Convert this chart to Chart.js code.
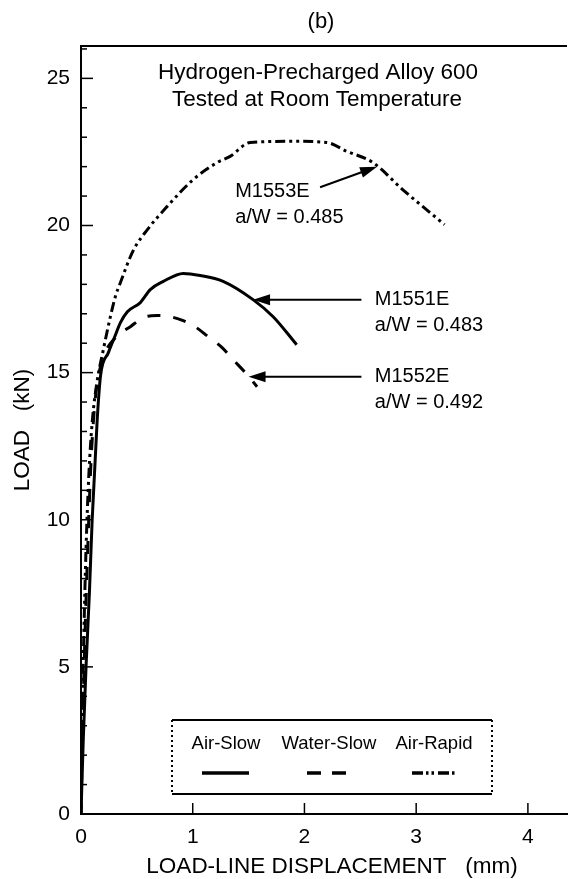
<!DOCTYPE html>
<html>
<head>
<meta charset="utf-8">
<title>Load vs load-line displacement</title>
<script src="https://cdn.jsdelivr.net/npm/chart.js@4.4.1/dist/chart.umd.min.js"></script>
<style>
  html, body { margin: 0; padding: 0; background: #fff; }
  #wrap { width: 570px; height: 879px; }
</style>
</head>
<body>
<div id="wrap"><canvas id="loadChart" width="570" height="879"></canvas></div>
<script>
// values (mm / kN)
var airSlowX = [0, 0.02, 0.045, 0.075, 0.10, 0.145, 0.175, 0.245, 0.30, 0.353, 0.415, 0.531, 0.62, 0.737, 0.915, 1.067, 1.272, 1.54, 1.72, 1.93];
var airSlowY = [0, 2.5, 5.0, 7.5, 10.0, 13.4, 14.9, 15.68, 16.2, 16.7, 17.07, 17.38, 17.82, 18.1, 18.37, 18.3, 18.1, 17.48, 16.9, 15.95];

var waterSlowX = [0, 0.015, 0.035, 0.06, 0.09, 0.13, 0.19, 0.308, 0.442, 0.558, 0.683, 0.799, 0.915, 1.022, 1.138, 1.263, 1.362, 1.487, 1.576];
var waterSlowY = [0, 3.0, 6.0, 9.0, 12.0, 14.2, 15.4, 16.19, 16.56, 16.87, 16.94, 16.9, 16.77, 16.56, 16.22, 15.85, 15.44, 14.93, 14.52];

var airRapidX = [0, 0.01, 0.025, 0.045, 0.07, 0.10, 0.14, 0.20, 0.263, 0.308, 0.353, 0.465, 0.594, 0.772, 1.004, 1.219, 1.335, 1.513, 1.897, 2.2, 2.379, 2.612, 2.879, 3.254];
var airRapidY = [0, 3.0, 6.0, 9.0, 11.5, 13.3, 14.6, 15.78, 16.9, 17.59, 18.06, 19.13, 19.86, 20.65, 21.56, 22.14, 22.35, 22.82, 22.86, 22.82, 22.52, 22.14, 21.22, 20.03];

var seriesNames = ['Air-Slow', 'Water-Slow', 'Air-Rapid'];
var specimenNames = ['M1553E', 'M1551E', 'M1552E'];
var specimenRatios = ['a/W = 0.485', 'a/W = 0.483', 'a/W = 0.492'];

var xTicks = [0, 1, 2, 3, 4];
var yTicks = [0, 5, 10, 15, 20, 25];

function toPoints(xs, ys) {
  var pts = [];
  for (var i = 0; i < xs.length; i++) pts.push({x: xs[i], y: ys[i]});
  return pts;
}

var FONT = "'Liberation Sans', Arial, Helvetica, sans-serif";
var dashStyle = [13, 13];
var dashDotStyle = [10, 4, 3, 4, 3, 4];

// where the labels and arrows sit, in data units
var notes = [
  {text: 0, tx: 1.38, ty: 21.16, fx: 2.14, fy: 21.3, ax: 2.65, ay: 22.0},
  {text: 1, tx: 2.63, ty: 17.48, fx: 2.51, fy: 17.48, ax: 1.54, ay: 17.48},
  {text: 2, tx: 2.63, ty: 14.86, fx: 2.51, fy: 14.86, ax: 1.50, ay: 14.86}
];

function drawArrow(ctx, x1, y1, x2, y2) {
  var ang = Math.atan2(y2 - y1, x2 - x1);
  var len = 17, hw = 5.5;
  ctx.beginPath();
  ctx.moveTo(x1, y1);
  ctx.lineTo(x2 - Math.cos(ang) * len * 0.8, y2 - Math.sin(ang) * len * 0.8);
  ctx.lineWidth = 2;
  ctx.stroke();
  ctx.beginPath();
  ctx.moveTo(x2, y2);
  ctx.lineTo(x2 - Math.cos(ang) * len - Math.sin(ang) * hw, y2 - Math.sin(ang) * len + Math.cos(ang) * hw);
  ctx.lineTo(x2 - Math.cos(ang) * len + Math.sin(ang) * hw, y2 - Math.sin(ang) * len - Math.cos(ang) * hw);
  ctx.closePath();
  ctx.fill();
}

var figureExtras = {
  id: 'figureExtras',
  afterDraw: function (chart) {
    var ctx = chart.ctx;
    var xs = chart.scales.x, ys = chart.scales.y;
    var area = chart.chartArea;
    ctx.save();
    ctx.strokeStyle = '#000';
    ctx.fillStyle = '#000';

    // top frame line
    ctx.lineWidth = 2;
    ctx.beginPath();
    ctx.moveTo(area.left, area.top);
    ctx.lineTo(area.right, area.top);
    ctx.stroke();

    // inward tick marks
    ctx.lineWidth = 1.5;
    for (var v = 1; v <= 26; v++) {
      var py = ys.getPixelForValue(v);
      ctx.beginPath();
      ctx.moveTo(area.left, py);
      ctx.lineTo(area.left + (v % 5 === 0 ? 12 : 6), py);
      ctx.stroke();
    }
    for (var k = 1; k < xTicks.length; k++) {
      var px = xs.getPixelForValue(xTicks[k]);
      ctx.beginPath();
      ctx.moveTo(px, area.bottom);
      ctx.lineTo(px, area.bottom - 11);
      ctx.stroke();
    }

    // header
    ctx.textAlign = 'center';
    ctx.textBaseline = 'middle';
    ctx.font = '22px ' + FONT;
    ctx.fillText('(b)', 321, 22);
    ctx.font = '22.5px ' + FONT;
    ctx.fillText('Hydrogen-Precharged Alloy 600', 318, 73);
    ctx.fillText('Tested at Room Temperature', 317, 100);

    // specimen labels + arrows
    ctx.textAlign = 'left';
    ctx.font = '20px ' + FONT;
    notes.forEach(function (n) {
      var lx = xs.getPixelForValue(n.tx), ly = ys.getPixelForValue(n.ty);
      ctx.fillText(specimenNames[n.text], lx, ly);
      ctx.fillText(specimenRatios[n.text], lx, ly + 26);
      drawArrow(ctx, xs.getPixelForValue(n.fx), ys.getPixelForValue(n.fy),
                xs.getPixelForValue(n.ax), ys.getPixelForValue(n.ay));
    });

    // axis titles
    ctx.textAlign = 'center';
    ctx.font = '22.5px ' + FONT;
    ctx.fillText('LOAD-LINE DISPLACEMENT   (mm)', 332, 867);
    ctx.save();
    ctx.translate(23, 430);
    ctx.rotate(-Math.PI / 2);
    ctx.fillText('LOAD   (kN)', 0, 0);
    ctx.restore();

    // legend box
    ctx.lineWidth = 2;
    ctx.beginPath();
    ctx.moveTo(172, 720); ctx.lineTo(492, 720);
    ctx.moveTo(172, 794); ctx.lineTo(492, 794);
    ctx.stroke();
    ctx.setLineDash([2, 3]);
    ctx.beginPath();
    ctx.moveTo(172, 720); ctx.lineTo(172, 794);
    ctx.moveTo(492, 720); ctx.lineTo(492, 794);
    ctx.stroke();

    ctx.font = '18.5px ' + FONT;
    var centers = [226, 329, 434];
    var sampleX = [[202, 249], [307, 347], [412, 455]];
    var dashes = [[], [14, 11], [11, 3, 2.5, 3, 2.5, 4]];
    for (var i = 0; i < seriesNames.length; i++) {
      ctx.fillText(seriesNames[i], centers[i], 744);
      ctx.setLineDash(dashes[i]);
      ctx.lineWidth = 3.5;
      ctx.beginPath();
      ctx.moveTo(sampleX[i][0], 773);
      ctx.lineTo(sampleX[i][1], 773);
      ctx.stroke();
    }
    ctx.restore();
  }
};

var ctx = document.getElementById('loadChart').getContext('2d');
var chart = new Chart(ctx, {
  type: 'line',
  data: {
    datasets: [
      {
        label: seriesNames[0],
        data: toPoints(airSlowX, airSlowY),
        borderColor: '#000',
        borderWidth: 3,
        pointRadius: 0,
        fill: false,
        cubicInterpolationMode: 'monotone'
      },
      {
        label: seriesNames[1],
        data: toPoints(waterSlowX, waterSlowY),
        borderColor: '#000',
        borderWidth: 3,
        borderDash: dashStyle,
        pointRadius: 0,
        fill: false,
        cubicInterpolationMode: 'monotone'
      },
      {
        label: seriesNames[2],
        data: toPoints(airRapidX, airRapidY),
        borderColor: '#000',
        borderWidth: 3,
        borderDash: dashDotStyle,
        pointRadius: 0,
        fill: false,
        cubicInterpolationMode: 'monotone'
      }
    ]
  },
  options: {
    responsive: false,
    devicePixelRatio: 1,
    animation: false,
    layout: { padding: { top: 46, right: 3, bottom: 0, left: 0 } },
    plugins: {
      legend: { display: false },
      tooltip: { enabled: false }
    },
    scales: {
      x: {
        type: 'linear',
        min: 0,
        max: 4.35,
        afterFit: function (scale) { scale.height = 65; },
        grid: { display: false, drawTicks: false },
        border: { display: true, color: '#000', width: 2 },
        ticks: {
          stepSize: 1,
          includeBounds: false,
          padding: 11,
          color: '#000',
          font: { family: FONT, size: 21 },
          callback: function (v) { return xTicks.indexOf(v) >= 0 ? v : ''; }
        }
      },
      y: {
        type: 'linear',
        min: 0,
        max: 26.1,
        afterFit: function (scale) { scale.width = 81; },
        grid: { display: false, drawTicks: false },
        border: { display: true, color: '#000', width: 2 },
        ticks: {
          stepSize: 5,
          includeBounds: false,
          padding: 11,
          color: '#000',
          font: { family: FONT, size: 21 },
          callback: function (v) { return yTicks.indexOf(v) >= 0 ? v : ''; }
        }
      }
    }
  },
  plugins: [figureExtras]
});
</script>
</body>
</html>
